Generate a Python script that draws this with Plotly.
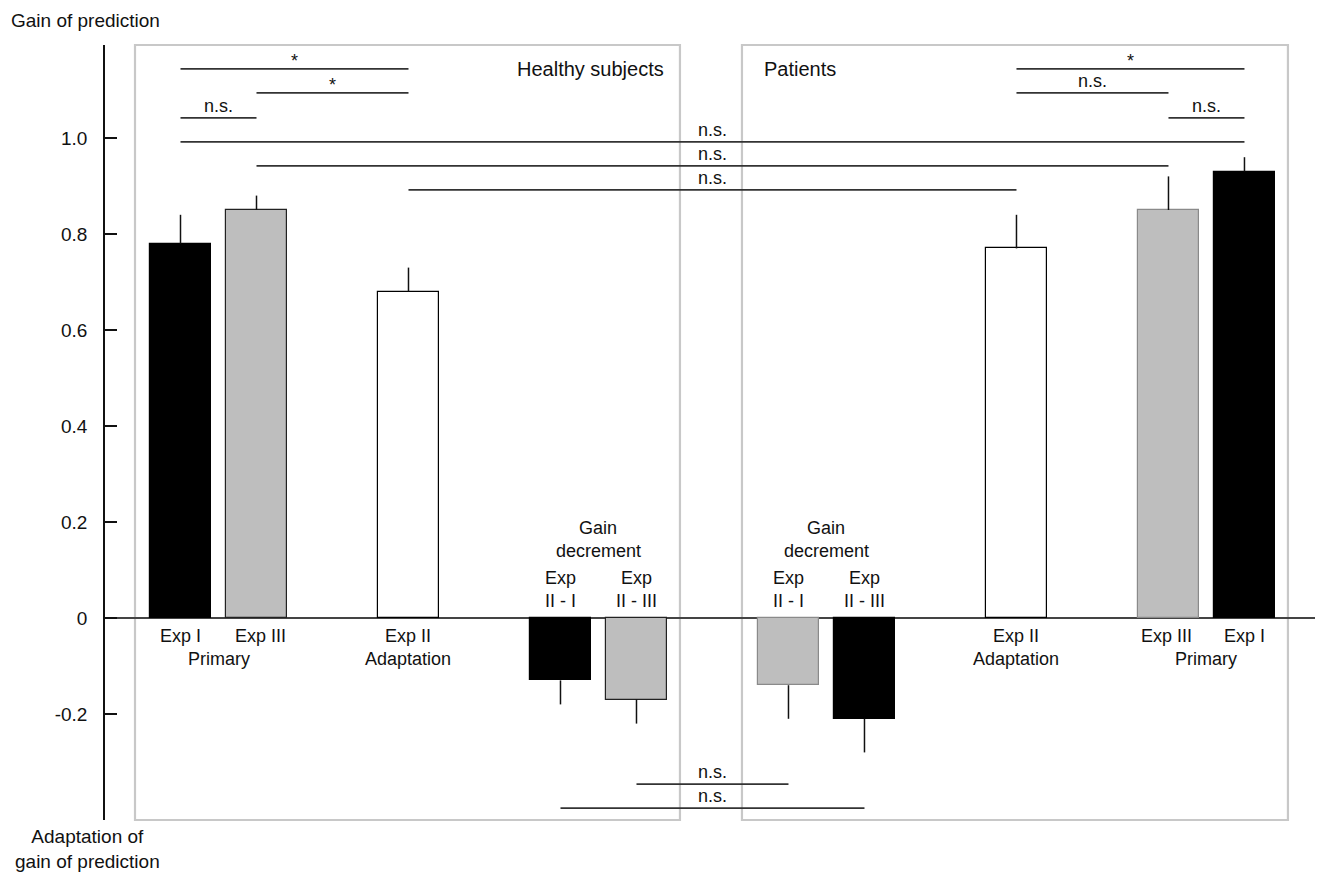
import plotly.graph_objects as go

# ---- data ----
bar_pos = [0, 1, 3, 5, 6, 8, 9, 11, 13, 14]
values = [0.78, 0.85, 0.68, -0.13, -0.17, -0.14, -0.21, 0.77, 0.85, 0.93]
errors = [0.06, 0.03, 0.05, 0.05, 0.05, 0.07, 0.07, 0.07, 0.07, 0.03]
fills = ["#000000", "#bebebe", "#ffffff", "#000000", "#bebebe",
         "#bebebe", "#000000", "#ffffff", "#bebebe", "#000000"]
outlines = ["#000000", "#222222", "#000000", "#000000", "#222222",
            "#8a8a8a", "#000000", "#000000", "#8a8a8a", "#000000"]

tick_vals = [-0.2, 0, 0.2, 0.4, 0.6, 0.8, 1.0]
tick_text = ["-0.2", "0", "0.2", "0.4", "0.6", "0.8", "1.0"]

# significance brackets: (start bar index, end bar index, level, label)
sig_start = [0, 1, 0, 0, 1, 2, 7, 7, 8, 4, 3]
sig_end = [2, 2, 1, 9, 8, 7, 9, 8, 9, 5, 6]
sig_level = [1.144, 1.094, 1.042, 0.992, 0.942, 0.892,
             1.144, 1.094, 1.042, -0.346, -0.396]
sig_label = ["*", "*", "n.s.", "n.s.", "n.s.", "n.s.",
             "*", "n.s.", "n.s.", "n.s.", "n.s."]

FONT = "Liberation Sans, Arial, sans-serif"
LBL = 18

err_up = [e if v >= 0 else 0 for v, e in zip(values, errors)]
err_down = [e if v < 0 else 0 for v, e in zip(values, errors)]

fig = go.Figure()
fig.add_trace(go.Bar(
    x=bar_pos, y=values, width=0.8,
    marker=dict(color=fills, line=dict(color=outlines, width=1.2)),
    error_y=dict(type="data", symmetric=False, array=err_up, arrayminus=err_down,
                 width=0, thickness=1.5, color="#111111"),
    showlegend=False, hoverinfo="skip",
))

x_min, x_max = -0.9934, 14.928
y_min, y_max = -0.42083, 1.19375

shapes = []
# group boxes
for x0, x1 in [(-0.5987, 6.572), (7.388, 14.572)]:
    shapes.append(dict(type="rect", xref="x", yref="paper", x0=x0, x1=x1, y0=0, y1=1,
                       line=dict(color="#c8c8c8", width=2.2), fillcolor="rgba(0,0,0,0)",
                       layer="below"))

annotations = []
for s, e, lv, lab in zip(sig_start, sig_end, sig_level, sig_label):
    xs, xe = bar_pos[s], bar_pos[e]
    shapes.append(dict(type="line", xref="x", yref="y", x0=xs, x1=xe, y0=lv, y1=lv,
                       line=dict(color="#333333", width=1.6)))
    annotations.append(dict(x=(xs + xe) / 2, y=lv, xref="x", yref="y", text=lab,
                            showarrow=False, yanchor="bottom", yshift=0 if lab == "n.s." else -4,
                            font=dict(size=LBL, color="#111111", family=FONT)))

def txt(x, y, t, size=LBL):
    annotations.append(dict(x=x, y=y, xref="x", yref="y", text=t, showarrow=False,
                            xanchor="center", yanchor="middle",
                            font=dict(size=size, color="#111111", family=FONT)))

# group titles
txt(5.4, 1.143, "Healthy subjects", 20)
txt(8.15, 1.143, "Patients", 20)

# bar labels (below zero)
y1 = -0.0375
y2 = -0.0855
txt(0, y1, "Exp I")
txt(1.05, y1, "Exp III")
txt(0.5, y2, "Primary")
txt(3, y1, "Exp II")
txt(3, y2, "Adaptation")
txt(11, y1, "Exp II")
txt(11, y2, "Adaptation")
txt(12.98, y1, "Exp III")
txt(14.0, y1, "Exp I")
txt(13.5, y2, "Primary")

# gain decrement labels (above zero)
for a, b, sub1, sub2 in [(5, 6, "II - I", "II - III"), (8, 9, "II - I", "II - III")]:
    txt((a + b) / 2, 0.1875, "Gain")
    txt((a + b) / 2, 0.1396, "decrement")
    txt(a, 0.0833, "Exp")
    txt(a, 0.0354, sub1)
    txt(b, 0.0833, "Exp")
    txt(b, 0.0354, sub2)

# page body has an 8px margin in the browser
OFF = 8
W, H = 1307, 865
ml, mr, mt, mb = 97, 0, 37, 53
pw, ph = W - ml - mr, H - mt - mb

def paper_txt(px, py, t, xanchor, size=20):
    annotations.append(dict(x=(px - OFF - ml) / pw, y=(H - (py - OFF) - mb) / ph,
                            xref="paper", yref="paper",
                            text=t, showarrow=False, xanchor=xanchor, yanchor="middle",
                            font=dict(size=size, color="#111111", family=FONT)))

# axis titles
paper_txt(9, 21, "Gain of prediction", "left", 19)
paper_txt(87, 849, "Adaptation of<br>gain of prediction", "center", 19)

fig.update_layout(
    width=W, height=H,
    margin=dict(l=ml, r=mr, t=mt, b=mb, pad=0),
    paper_bgcolor="white", plot_bgcolor="white",
    shapes=shapes, annotations=annotations,
    font=dict(family=FONT, size=18, color="#111111"),
    bargap=0,
    xaxis=dict(range=[x_min, x_max], showgrid=False, zeroline=False, showline=False,
               showticklabels=False, ticks="", fixedrange=True),
    yaxis=dict(range=[y_min, y_max], showgrid=False, zeroline=True, zerolinecolor="#444444",
               zerolinewidth=1.5, showline=True, linecolor="#111111", linewidth=1.5,
               tickvals=tick_vals, ticktext=tick_text, ticks="inside", ticklen=12,
               tickwidth=1.5, tickcolor="#111111", ticklabelstandoff=12,
               tickfont=dict(size=19, family=FONT, color="#111111"), fixedrange=True),
)

fig.write_html("out.html")
